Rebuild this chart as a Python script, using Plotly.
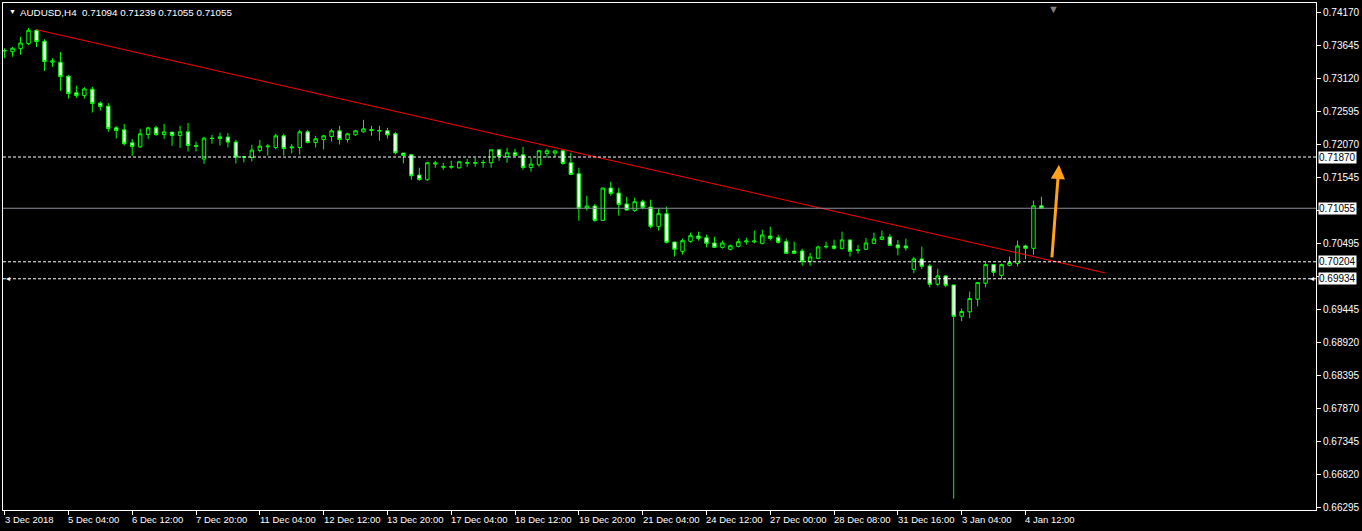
import plotly.graph_objects as go

# ---------------- data (AUDUSD H4) ----------------
open_ = [0.73556,0.73545,0.73593,0.73672,0.73885,0.73710,0.73377,0.73377,0.73155,0.72890,
         0.72847,0.72948,0.72726,0.72678,0.72334,0.72302,0.72096,0.72032,0.72228,0.72334,
         0.72228,0.72266,0.72212,0.72270,0.72037,0.71837,0.72170,0.72164,0.72186,0.72107,
         0.71869,0.71862,0.71974,0.72032,0.72021,0.72207,0.72016,0.72021,0.72270,0.72101,
         0.72148,0.72196,0.72286,0.72148,0.72223,0.72270,0.72291,0.72282,0.72286,0.72239,
         0.71932,0.71905,0.71583,0.71508,0.71758,0.71710,0.71710,0.71699,0.71773,0.71773,
         0.71778,0.71778,0.71985,0.71878,0.71937,0.71905,0.71704,0.71746,0.71926,0.71932,
         0.71969,0.71778,0.71604,0.71059,0.71091,0.70862,0.71377,0.71297,0.71123,0.71021,
         0.71159,0.71075,0.70767,0.70969,0.70519,0.70370,0.70529,0.70614,0.70587,0.70503,
         0.70433,0.70402,0.70449,0.70519,0.70519,0.70497,0.70614,0.70587,0.70524,0.70376,
         0.70376,0.70206,0.70259,0.70440,0.70456,0.70413,0.70551,0.70386,0.70402,0.70497,
         0.70560,0.70599,0.70472,0.70456,0.70084,0.70249,0.70138,0.69846,0.69979,0.69836,
         0.69338,0.69408,0.69608,0.69862,0.70159,0.69989,0.70148,0.70179,0.70456,0.70418,
         0.71094]
high = [0.73599,0.73620,0.73779,0.73922,0.73901,0.73742,0.73441,0.73541,0.73171,0.73001,
        0.72980,0.72985,0.72751,0.72726,0.72361,0.72397,0.72159,0.72318,0.72350,0.72366,
        0.72397,0.72266,0.72366,0.72413,0.72116,0.72191,0.72223,0.72255,0.72250,0.72143,
        0.71889,0.72064,0.72143,0.72075,0.72239,0.72239,0.72075,0.72302,0.72302,0.72207,
        0.72223,0.72318,0.72366,0.72255,0.72302,0.72461,0.72366,0.72366,0.72334,0.72270,
        0.71932,0.71921,0.71699,0.71794,0.71810,0.71778,0.71810,0.71810,0.71842,0.71858,
        0.71826,0.71985,0.71985,0.72016,0.72001,0.72032,0.71858,0.71985,0.72001,0.71985,
        0.71985,0.71937,0.71699,0.71254,0.71123,0.71377,0.71477,0.71381,0.71238,0.71223,
        0.71191,0.71191,0.71048,0.71080,0.70519,0.70572,0.70667,0.70683,0.70635,0.70603,
        0.70540,0.70476,0.70572,0.70587,0.70699,0.70714,0.70762,0.70635,0.70572,0.70524,
        0.70413,0.70345,0.70460,0.70524,0.70556,0.70683,0.70551,0.70472,0.70583,0.70667,
        0.70699,0.70646,0.70551,0.70572,0.70281,0.70445,0.70170,0.70095,0.69989,0.69836,
        0.69460,0.69730,0.69873,0.70195,0.70159,0.70175,0.70286,0.70540,0.70476,0.71175,
        0.71239]
low = [0.73441,0.73466,0.73498,0.73652,0.73620,0.73239,0.73302,0.72921,0.72799,0.72810,
       0.72799,0.72577,0.72609,0.72270,0.72164,0.72053,0.71889,0.72016,0.72159,0.72207,
       0.72159,0.72048,0.72016,0.71958,0.71958,0.71762,0.72080,0.72053,0.72021,0.71767,
       0.71783,0.71799,0.71942,0.71894,0.71989,0.71894,0.71926,0.71910,0.72085,0.72021,
       0.71989,0.72116,0.72069,0.72101,0.72207,0.72255,0.72207,0.72128,0.72164,0.71910,
       0.71767,0.71508,0.71492,0.71492,0.71699,0.71667,0.71683,0.71683,0.71715,0.71715,
       0.71699,0.71699,0.71810,0.71778,0.71878,0.71667,0.71635,0.71715,0.71858,0.71873,
       0.71746,0.71592,0.70857,0.71016,0.70841,0.70862,0.71254,0.70937,0.71016,0.71000,
       0.71037,0.70735,0.70699,0.70497,0.70286,0.70318,0.70508,0.70540,0.70433,0.70424,
       0.70413,0.70386,0.70433,0.70476,0.70497,0.70481,0.70540,0.70497,0.70329,0.70329,
       0.70143,0.70143,0.70249,0.70413,0.70397,0.70397,0.70286,0.70333,0.70392,0.70487,
       0.70551,0.70456,0.70306,0.70381,0.70021,0.70091,0.69798,0.69814,0.69798,0.66437,
       0.69259,0.69306,0.69497,0.69798,0.69973,0.69925,0.70132,0.70132,0.70243,0.70318,
       0.71055]
close = [0.73564,0.73599,0.73683,0.73885,0.73704,0.73387,0.73398,0.73148,0.72879,0.72847,
         0.72953,0.72720,0.72672,0.72323,0.72291,0.72080,0.72037,0.72239,0.72334,0.72228,
         0.72270,0.72212,0.72270,0.72053,0.72053,0.72170,0.72164,0.72191,0.72107,0.71869,
         0.71873,0.71980,0.72043,0.72043,0.72207,0.72005,0.72028,0.72270,0.72101,0.72159,
         0.72207,0.72286,0.72148,0.72239,0.72286,0.72318,0.72307,0.72291,0.72223,0.71937,
         0.71894,0.71572,0.71513,0.71778,0.71773,0.71715,0.71715,0.71794,0.71778,0.71778,
         0.71783,0.71985,0.71878,0.71937,0.71894,0.71704,0.71758,0.71969,0.71969,0.71964,
         0.71767,0.71592,0.71053,0.71091,0.70862,0.71377,0.71291,0.71116,0.71027,0.71159,
         0.71069,0.70767,0.70969,0.70513,0.70402,0.70540,0.70619,0.70576,0.70497,0.70433,
         0.70503,0.70460,0.70524,0.70535,0.70535,0.70630,0.70576,0.70513,0.70338,0.70338,
         0.70206,0.70281,0.70440,0.70449,0.70418,0.70551,0.70370,0.70392,0.70503,0.70567,
         0.70599,0.70465,0.70424,0.70424,0.70249,0.70132,0.69846,0.69979,0.69830,0.69338,
         0.69413,0.69619,0.69873,0.70159,0.70037,0.70159,0.70191,0.70456,0.70418,0.71094,
         0.71055]

bars = list(range(len(close)))  # H4 bar index, 3 Dec 2018 20:00 ... 4 Jan 2019 20:00

x_tick_labels = ["3 Dec 2018", "5 Dec 04:00", "6 Dec 12:00", "7 Dec 20:00", "11 Dec 04:00",
                 "12 Dec 12:00", "13 Dec 20:00", "17 Dec 04:00", "18 Dec 12:00", "19 Dec 20:00",
                 "21 Dec 04:00", "24 Dec 12:00", "27 Dec 00:00", "28 Dec 08:00", "31 Dec 16:00",
                 "3 Jan 04:00", "4 Jan 12:00"]
bars_per_label = 8

# price scale ticks; the two hidden behind the price boxes carry no text
y_tick_values = [0.74170, 0.73645, 0.73120, 0.72595, 0.72070, 0.71545, 0.71020,
                 0.70495, 0.69970, 0.69445, 0.68920, 0.68395, 0.67870, 0.67345,
                 0.66820, 0.66295]
y_tick_labels = ["0.74170", "0.73645", "0.73120", "0.72595", "0.72070", "0.71545", "",
                 "0.70495", "", "0.69445", "0.68920", "0.68395", "0.67870", "0.67345",
                 "0.66820", "0.66295"]

dashed_levels = [0.71870, 0.70204, 0.69934]
bid_level = 0.71055

trend_x = [4, 138]
trend_y = [0.73895, 0.70027]
arrow_x = [131.3, 132.2]      # base, tip
arrow_y = [0.70249, 0.71746]

title_text = "AUDUSD,H4  0.71094 0.71239 0.71055 0.71055"

# ---------------- figure ----------------
GREEN = "#00FF00"
FONT = "Liberation Sans"

fig = go.Figure()
fig.add_trace(go.Candlestick(
    x=bars, open=open_, high=high, low=low, close=close,
    increasing=dict(line=dict(color=GREEN, width=1), fillcolor="#000000"),
    decreasing=dict(line=dict(color=GREEN, width=1), fillcolor="#FFFFFF"),
    whiskerwidth=0, hoverinfo="skip", showlegend=False,
))
fig.add_trace(go.Scatter(x=trend_x, y=trend_y, mode="lines",
                         line=dict(color="#FF0000", width=1),
                         hoverinfo="skip", showlegend=False))

shapes = []
for lv in dashed_levels:
    shapes.append(dict(type="line", xref="paper", x0=0, x1=1, yref="y", y0=lv, y1=lv,
                       line=dict(color="#FFFFFF", width=1, dash="3px,2px"), layer="above"))
shapes.append(dict(type="line", xref="paper", x0=0, x1=1, yref="y", y0=bid_level, y1=bid_level,
                   line=dict(color="#8A8F9A", width=1), layer="above"))

annotations = []
# x axis labels, left-aligned at their ticks
for k, lab in enumerate(x_tick_labels):
    annotations.append(dict(x=k * bars_per_label, xref="x", y=0, yref="paper",
                            text=lab, showarrow=False, xanchor="left", yanchor="top",
                            xshift=-2, yshift=-2,
                            font=dict(family=FONT, size=9.5, color="#FFFFFF")))
# price boxes on the right scale
for lv in dashed_levels + [bid_level]:
    annotations.append(dict(x=1, xref="paper", y=lv, yref="y", text=f"{lv:.5f}",
                            showarrow=False, xanchor="left", yanchor="middle", xshift=2,
                            bgcolor="#FFFFFF", borderpad=0,
                            font=dict(family=FONT, size=10, color="#000000")))
# title
annotations.append(dict(x=0, xref="paper", y=1, yref="paper", text=title_text,
                        showarrow=False, xanchor="left", yanchor="top", xshift=15, yshift=-2,
                        font=dict(family=FONT, size=9.8, color="#FFFFFF")))
annotations.append(dict(x=0, xref="paper", y=1, yref="paper", text="▼",
                        showarrow=False, xanchor="left", yanchor="top", xshift=4, yshift=-3,
                        font=dict(family=FONT, size=7, color="#FFFFFF")))
# chart-shift marker
annotations.append(dict(x=131.5, xref="x", y=1, yref="paper", text="▼",
                        showarrow=False, xanchor="center", yanchor="top", yshift=2,
                        font=dict(family=FONT, size=11, color="#7F7F7F")))
# small arrow markers of the lower horizontal line
annotations.append(dict(x=0, xref="paper", y=dashed_levels[2], yref="y", text="◂",
                        showarrow=False, xanchor="left", yanchor="middle", xshift=1,
                        font=dict(family=FONT, size=8, color="#FFFFFF")))
annotations.append(dict(x=1, xref="paper", y=dashed_levels[2], yref="y", text="◂",
                        showarrow=False, xanchor="right", yanchor="middle", xshift=0,
                        font=dict(family=FONT, size=8, color="#FFFFFF")))
# orange arrow
annotations.append(dict(x=arrow_x[1], y=arrow_y[1], xref="x", yref="y",
                        ax=arrow_x[0], ay=arrow_y[0], axref="x", ayref="y",
                        text="", showarrow=True, arrowhead=2, arrowsize=0.95,
                        arrowwidth=3, arrowcolor="#FFA31A"))

fig.update_layout(
    width=1362, height=531,
    paper_bgcolor="#000000", plot_bgcolor="#000000",
    margin=dict(l=2, r=43, t=2, b=21),
    showlegend=False, boxgap=0.38,
    shapes=shapes, annotations=annotations,
    xaxis=dict(range=[-0.2, 164.425], rangeslider=dict(visible=False),
               tickmode="array", tickvals=[k * bars_per_label for k in range(len(x_tick_labels))],
               showticklabels=False, ticks="outside", ticklen=4, tickcolor="#FFFFFF",
               showline=True, mirror=True, linecolor="#FFFFFF", linewidth=1,
               showgrid=False, zeroline=False, fixedrange=True),
    yaxis=dict(range=[0.662572, 0.743186], side="right",
               tickmode="array", tickvals=y_tick_values, ticktext=y_tick_labels,
               ticks="outside", ticklen=4, tickcolor="#FFFFFF",
               tickfont=dict(family=FONT, size=10, color="#FFFFFF"),
               showline=True, mirror=True, linecolor="#FFFFFF", linewidth=1,
               showgrid=False, zeroline=False, fixedrange=True),
)

fig.write_html("out.html", config={"displayModeBar": False},
               post_script="document.body.style.margin='0';document.body.style.background='#000';")
